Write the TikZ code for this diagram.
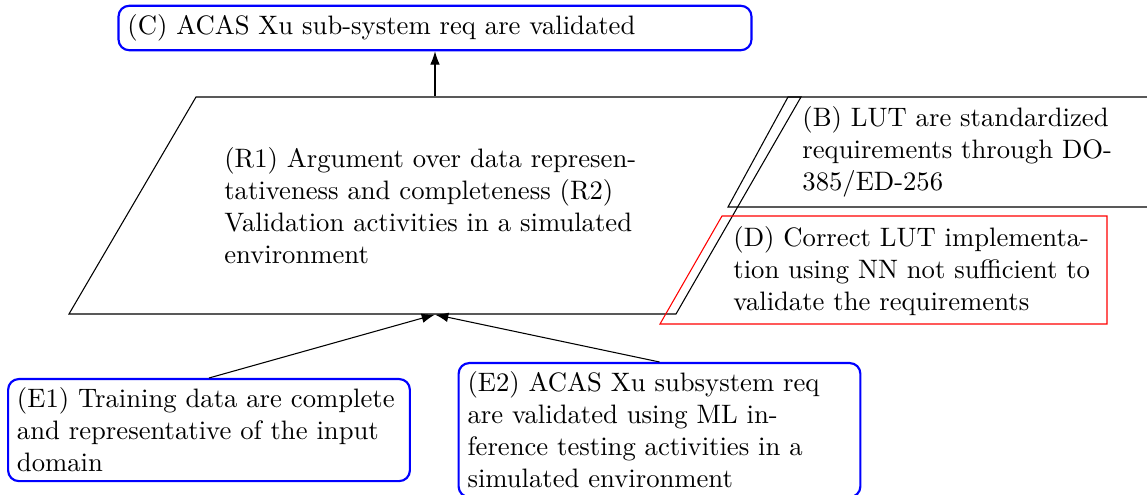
\documentclass[tikz,border=0pt]{standalone}
\usetikzlibrary{arrows.meta}
\begin{document}
\begin{tikzpicture}[x=0.375pt,y=-0.375pt,
  goalbox/.style={draw=blue, line width=0.8pt, rounded corners=4pt, align=left, inner sep=3.33pt, text width=#1},
  plainbox/.style={align=left, inner sep=3.33pt, text width=#1},
  edge/.style={draw=black, line width=0.4pt},
  link/.style={-{Latex[length=5pt,width=3.6pt]}, line width=0.4pt}]
\useasboundingbox (0,0) rectangle (1147,495);

% (C)
\node[goalbox=230.7pt] (C) at (435,28) {(C) ACAS Xu sub-system req are validated};

% (R1) strategy parallelogram
\node[align=left, text width=158pt, minimum width=274.9pt, minimum height=81.4pt, inner sep=0pt] (R1) at (435,205.5)
  {(R1) Argument over data represen-\\tativeness and completeness (R2)\\Validation activities in a simulated\\environment};
\draw[edge] (196,97) -- (801,97) -- (676,314) -- (69,314) -- cycle;

% (B) context
\node[plainbox=125pt, anchor=north west] (B) at (793,97)
  {(B) LUT are standardized\\requirements through DO-\\385/ED-256};
\draw[edge] (1147,97) -- (788,97) -- (728,207) -- (1147,207);

% (D) justification
\draw[draw=red, line width=0.4pt] (660,324) -- (722,216) -- (1107,216) -- (1107,324) -- cycle;
\node[plainbox=135pt, anchor=north west] (D) at (724,217)
  {(D) Correct LUT implementa-\\tion using NN not sufficient to\\validate the requirements};

% (E1), (E2)
\node[goalbox=144pt, anchor=north] (E1) at (209,378)
  {(E1) Training data are complete\\and representative of the input\\domain};
\node[goalbox=144pt, anchor=north] (E2) at (659.5,362)
  {(E2) ACAS Xu subsystem req\\are validated using ML in-\\ference testing activities in a\\simulated environment};

% connectors
\draw[link] (R1.north) -- (C.south);
\draw[link] (E1.north) -- (R1.south);
\draw[link] (E2.north) -- (R1.south);
\end{tikzpicture}
\end{document}
